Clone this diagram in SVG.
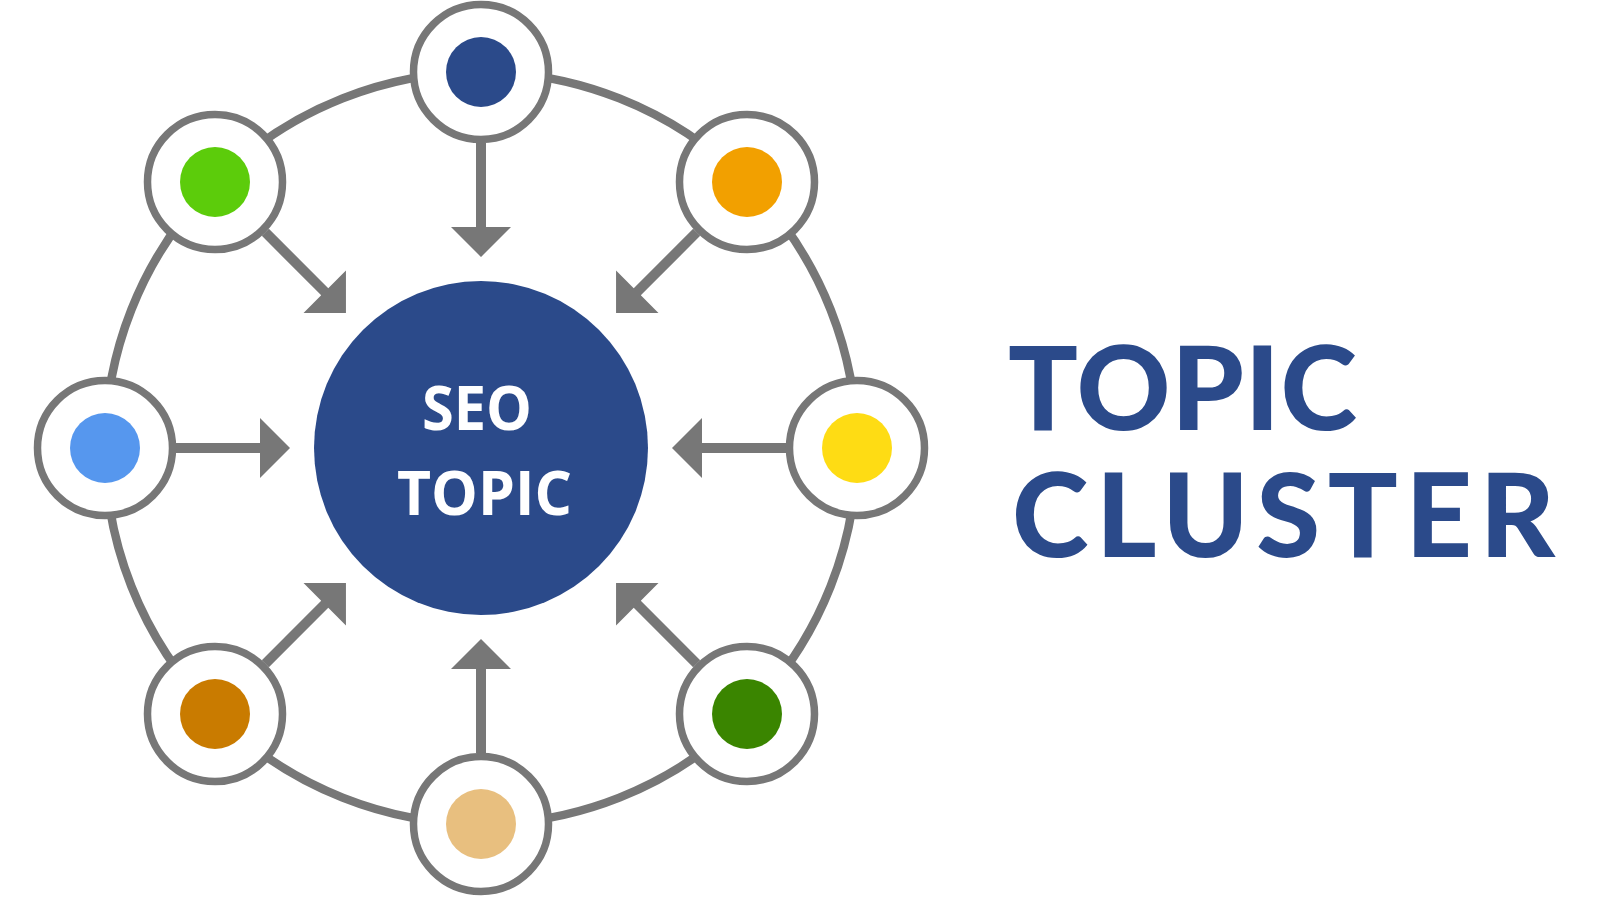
<svg xmlns="http://www.w3.org/2000/svg" xmlns:xlink="http://www.w3.org/1999/xlink" width="1600" height="900" viewBox="0 0 1600 900">
  <style>
    .ring { fill: none; stroke: #777777; stroke-width: 8.5; }
    .node-ring { fill: #ffffff; stroke: #777777; stroke-width: 7.5; }
    .arrow { fill: #777777; }
    .hub { fill: #2B4A8A; }
    .hub-text { font-family: "Open Sans", "Liberation Sans", sans-serif; font-weight: 700; font-size: 60px; fill: #ffffff; }
    .title { font-family: Lato, "Open Sans", "Liberation Sans", sans-serif; font-weight: 900; font-size: 116px; fill: #2B4A8A; }
  </style>
  <defs>
    <!-- arrow pointing toward the hub centre (origin), drawn along +x -->
    <path id="arrow" class="arrow" d="M305,-5 L221,-5 L221,-30 L191,0 L221,30 L221,5 L305,5 Z"/>
  </defs>
  <rect width="1600" height="900" fill="#ffffff"/>

  <circle class="ring" cx="481" cy="448" r="376"/>

  <g id="connectors" transform="translate(481 448)">
    <use xlink:href="#arrow" href="#arrow" transform="rotate(0)"/>
    <use xlink:href="#arrow" href="#arrow" transform="rotate(-45)"/>
    <use xlink:href="#arrow" href="#arrow" transform="rotate(-90)"/>
    <use xlink:href="#arrow" href="#arrow" transform="rotate(-135)"/>
    <use xlink:href="#arrow" href="#arrow" transform="rotate(180)"/>
    <use xlink:href="#arrow" href="#arrow" transform="rotate(135)"/>
    <use xlink:href="#arrow" href="#arrow" transform="rotate(90)"/>
    <use xlink:href="#arrow" href="#arrow" transform="rotate(45)"/>
  </g>

  <g id="hub">
    <circle class="hub" cx="481" cy="448" r="167"/>
    <text class="hub-text" x="422" y="430" textLength="110" lengthAdjust="spacingAndGlyphs">SEO</text>
    <text class="hub-text" x="397" y="515" textLength="175" lengthAdjust="spacingAndGlyphs">TOPIC</text>
  </g>

  <g id="node-top">
    <circle class="node-ring" cx="481" cy="72" r="67.5"/>
    <circle cx="481" cy="72" r="35" fill="#2B4A8A"/>
  </g>
  <g id="node-top-right">
    <circle class="node-ring" cx="747" cy="182" r="67.5"/>
    <circle cx="747" cy="182" r="35" fill="#F2A000"/>
  </g>
  <g id="node-right">
    <circle class="node-ring" cx="857" cy="448" r="67.5"/>
    <circle cx="857" cy="448" r="35" fill="#FEDC14"/>
  </g>
  <g id="node-bottom-right">
    <circle class="node-ring" cx="747" cy="714" r="67.5"/>
    <circle cx="747" cy="714" r="35" fill="#3A8500"/>
  </g>
  <g id="node-bottom">
    <circle class="node-ring" cx="481" cy="824" r="67.5"/>
    <circle cx="481" cy="824" r="35" fill="#E8BF7F"/>
  </g>
  <g id="node-bottom-left">
    <circle class="node-ring" cx="215" cy="714" r="67.5"/>
    <circle cx="215" cy="714" r="35" fill="#C97B00"/>
  </g>
  <g id="node-left">
    <circle class="node-ring" cx="105" cy="448" r="67.5"/>
    <circle cx="105" cy="448" r="35" fill="#5697EE"/>
  </g>
  <g id="node-top-left">
    <circle class="node-ring" cx="215" cy="182" r="67.5"/>
    <circle cx="215" cy="182" r="35" fill="#5CCC0B"/>
  </g>

  <g id="title">
    <text class="title" x="1008" y="430" textLength="349" lengthAdjust="spacing">TOPIC</text>
    <text class="title" x="1012" y="557" textLength="543" lengthAdjust="spacing">CLUSTER</text>
  </g>
</svg>
